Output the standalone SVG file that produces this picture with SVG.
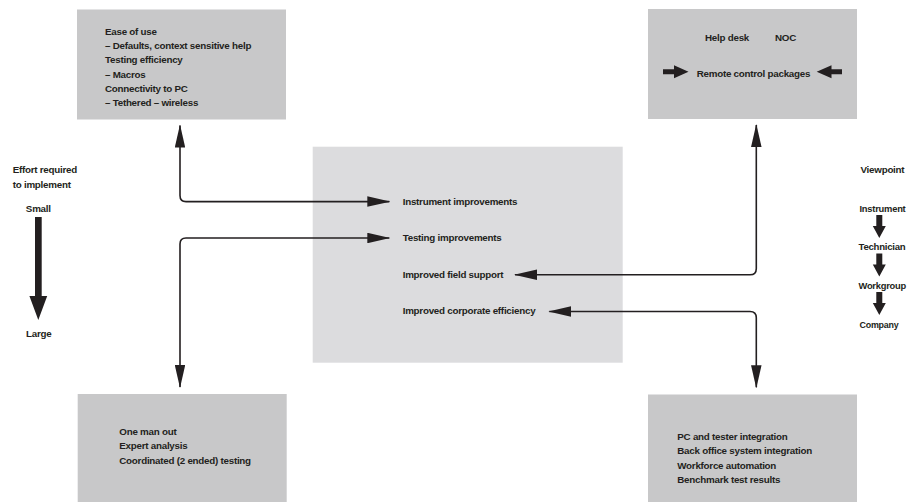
<svg xmlns="http://www.w3.org/2000/svg" width="907" height="502" viewBox="0 0 907 502">
  <style>
    .box { fill: #c8c8c9; }
    .center { fill: #dcdcde; }
    text { font-family: "Liberation Sans", Arial, sans-serif; font-weight: bold; font-size: 9.8px; letter-spacing: -0.25px; fill: #231f20; }
    .mid { text-anchor: middle; }
    .conn { fill: none; stroke: #231f20; stroke-width: 1.6; marker-start: url(#ah); marker-end: url(#ah); }
    .blk { fill: #231f20; }
  </style>
  <defs>
    <marker id="ah" viewBox="0 0 23 10.5" refX="22" refY="5.25" markerWidth="23" markerHeight="10.5" markerUnits="userSpaceOnUse" orient="auto-start-reverse">
      <path d="M0,0 L23,5.25 L0,10.5 Z" fill="#231f20"/>
    </marker>
  </defs>
  <rect width="907" height="502" fill="#ffffff"/>

  <g id="center-box">
    <rect class="center" x="312.7" y="146.7" width="310" height="216"/>
    <text x="402.7" y="205">Instrument improvements</text>
    <text x="402.7" y="241">Testing improvements</text>
    <text x="402.7" y="277.5">Improved field support</text>
    <text x="402.7" y="314">Improved corporate efficiency</text>
  </g>

  <g id="instrument-box">
    <rect class="box" x="77" y="9.5" width="209" height="110"/>
    <text x="105" y="35">Ease of use</text>
    <text x="105" y="49.2">– Defaults, context sensitive help</text>
    <text x="105" y="63.4">Testing efficiency</text>
    <text x="105" y="77.6">– Macros</text>
    <text x="105" y="91.8">Connectivity to PC</text>
    <text x="105" y="106">– Tethered – wireless</text>
  </g>

  <g id="support-box">
    <rect class="box" x="648" y="9" width="209" height="110"/>
    <text x="705" y="40.7">Help desk</text>
    <text x="775" y="40.7">NOC</text>
    <text x="696.7" y="76.5">Remote control packages</text>
    <path class="blk" d="M663,69.2 H674 V65.2 L688.5,71.7 L674,78.2 V74.2 H663 Z"/>
    <path class="blk" d="M842,69.2 H831.5 V65.2 L816.7,71.7 L831.5,78.2 V74.2 H842 Z"/>
  </g>

  <g id="testing-box">
    <rect class="box" x="77.7" y="394" width="209" height="108"/>
    <text x="119.3" y="435">One man out</text>
    <text x="119.3" y="449.4">Expert analysis</text>
    <text x="119.3" y="463.8">Coordinated (2 ended) testing</text>
  </g>

  <g id="corporate-box">
    <rect class="box" x="648" y="394.5" width="209" height="107.5"/>
    <text x="677.3" y="440">PC and tester integration</text>
    <text x="677.3" y="454.4">Back office system integration</text>
    <text x="677.3" y="468.8">Workforce automation</text>
    <text x="677.3" y="483.2">Benchmark test results</text>
  </g>

  <g id="effort-legend">
    <text x="12.7" y="173.3">Effort required</text>
    <text x="12.7" y="188.3">to implement</text>
    <text class="mid" x="38.3" y="211.7">Small</text>
    <path class="blk" d="M35,217 H41.7 V296 H47.2 L38.3,320 L29.4,296 H35 Z"/>
    <text class="mid" x="38.8" y="336.5">Large</text>
  </g>

  <g id="viewpoint-legend">
    <text x="860.5" y="173.3">Viewpoint</text>
    <text x="859.5" y="211.7" textLength="46" lengthAdjust="spacingAndGlyphs">Instrument</text>
    <path class="blk" d="M876.3,215 H882.3 V226 H885.8 L879.3,238 L872.8,226 H876.3 Z"/>
    <text x="858.5" y="250.3" textLength="47" lengthAdjust="spacingAndGlyphs">Technician</text>
    <path class="blk" d="M876.3,253.5 H882.3 V264.5 H885.8 L879.3,276.5 L872.8,264.5 H876.3 Z"/>
    <text x="858.5" y="289" textLength="47.5" lengthAdjust="spacingAndGlyphs">Workgroup</text>
    <path class="blk" d="M876.3,292 H882.3 V303 H885.8 L879.3,315 L872.8,303 H876.3 Z"/>
    <text x="859.5" y="328" textLength="39" lengthAdjust="spacingAndGlyphs">Company</text>
  </g>

  <g id="connectors">
    <path class="conn" d="M180,125.5 V195.5 Q180,201.6 186,201.6 H389.3"/>
    <path class="conn" d="M389.3,238 H186 Q180,238 180,244 V387"/>
    <path class="conn" d="M515,274.7 H750 Q756.3,274.7 756.3,268.4 V125"/>
    <path class="conn" d="M549.3,311.5 H750 Q756.3,311.5 756.3,317.8 V387.3"/>
  </g>
</svg>
